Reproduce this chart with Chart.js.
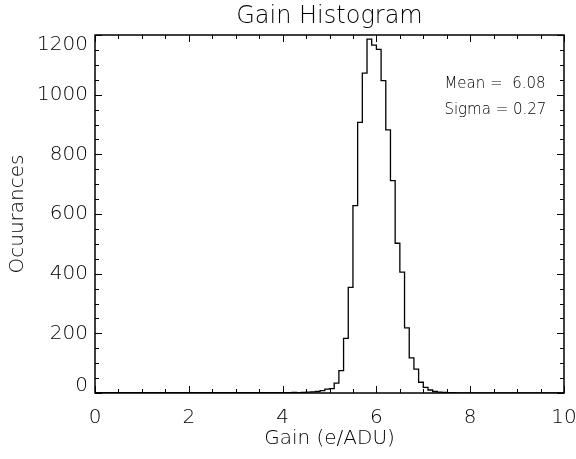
<!DOCTYPE html>
<html>
<head>
<meta charset="utf-8">
<script src="https://cdn.jsdelivr.net/npm/chart.js@4.4.0/dist/chart.umd.min.js"></script>
<style>
  html, body { margin: 0; padding: 0; background: #fff; }
  #wrap { width: 576px; height: 459px; }
</style>
</head>
<body>
<div id="wrap"><canvas id="gainChart" width="576" height="459"></canvas></div>
<script>
// Histogram bins (left edge of each 0.1 wide bin) and counts
const binStarts = [4.2, 4.3, 4.4, 4.5, 4.6, 4.7, 4.8, 4.9, 5.0, 5.1,
                   5.2, 5.3, 5.4, 5.5, 5.6, 5.7, 5.8, 5.9, 6.0, 6.1,
                   6.2, 6.3, 6.4, 6.5, 6.6, 6.7, 6.8, 6.9, 7.0, 7.1,
                   7.2, 7.3, 7.4, 7.5, 7.6, 7.7];
const counts = [1, 2, 1, 2, 3, 4, 5, 8, 13, 15,
                33, 75, 183, 354, 628, 907, 1072, 1186, 1166, 1152,
                1047, 882, 712, 502, 405, 218, 118, 80, 36, 19,
                10, 5, 3, 2, 1, 1];
const binWidth = 0.1;

// Axis ticks and labels
const xTickValues = [0, 2, 4, 6, 8, 10];
const xTickLabels = ['0', '2', '4', '6', '8', '10'];
const yTickValues = [0, 200, 400, 600, 800, 1000, 1200];
const yTickLabels = ['0', '200', '400', '600', '800', '1000', '1200'];
const xMinorStep = 0.5;
const yMinorStep = 50;

const titleText = 'Gain Histogram';
const xTitle = 'Gain (e/ADU)';
const yTitle = 'Ocuurances';
const statLines = ['Mean =  6.08', 'Sigma = 0.27'];

const FONT = '"DejaVu Sans", "Liberation Sans", sans-serif';

// Step outline points: baseline, each bin's left edge, closing edge, baseline
const lastEdge = binStarts[binStarts.length - 1] + binWidth;
const stepPoints = [{ x: 0, y: 0 }]
    .concat(binStarts.map((b, i) => ({ x: b, y: counts[i] })))
    .concat([{ x: lastEdge, y: 0 }, { x: 10, y: 0 }]);

// Frame, inward ticks and all the text, IDL style
const idlFrame = {
    id: 'idlFrame',
    afterDraw(chart) {
        const ctx = chart.ctx;
        const area = chart.chartArea;
        const xs = chart.scales.x;
        const ys = chart.scales.y;
        ctx.save();
        ctx.strokeStyle = '#000';
        ctx.lineWidth = 1.5;
        ctx.strokeRect(area.left, area.top, area.right - area.left, area.bottom - area.top);

        ctx.lineWidth = 1;
        ctx.beginPath();
        for (let v = 0; v <= 10 + 1e-9; v += xMinorStep) {
            const px = Math.round(xs.getPixelForValue(v)) + 0.5;
            const len = xTickValues.includes(Math.round(v * 10) / 10) ? 7 : 4;
            ctx.moveTo(px, area.bottom); ctx.lineTo(px, area.bottom - len);
            ctx.moveTo(px, area.top); ctx.lineTo(px, area.top + len);
        }
        for (let v = 0; v <= 1200; v += yMinorStep) {
            const py = Math.round(ys.getPixelForValue(v)) + 0.5;
            const len = yTickValues.includes(v) ? 7 : 4;
            ctx.moveTo(area.left, py); ctx.lineTo(area.left + len, py);
            ctx.moveTo(area.right, py); ctx.lineTo(area.right - len, py);
        }
        ctx.stroke();

        ctx.fillStyle = '#000';
        // tick labels
        ctx.font = '200 20px ' + FONT;
        ctx.textAlign = 'center';
        ctx.textBaseline = 'middle';
        xTickValues.forEach((v, i) => {
            ctx.fillText(xTickLabels[i], xs.getPixelForValue(v), 418);
        });
        ctx.textAlign = 'right';
        yTickValues.forEach((v, i) => {
            let py = ys.getPixelForValue(v);
            py = Math.min(Math.max(py, area.top + 10), area.bottom - 7);
            ctx.fillText(yTickLabels[i], area.left - 7, py);
        });

        // titles
        ctx.textAlign = 'center';
        ctx.font = '200 24px ' + FONT;
        ctx.fillText(titleText, (area.left + area.right) / 2, 17);
        ctx.font = '200 20px ' + FONT;
        ctx.fillText(xTitle, (area.left + area.right) / 2, 439);
        ctx.save();
        ctx.translate(18, (area.top + area.bottom) / 2);
        ctx.rotate(-Math.PI / 2);
        ctx.fillText(yTitle, 0, 0);
        ctx.restore();

        // statistics text
        ctx.textAlign = 'left';
        ctx.font = '200 15px ' + FONT;
        ctx.fillText(statLines[0], xs.getPixelForValue(7.45), 84);
        ctx.fillText(statLines[1], xs.getPixelForValue(7.45), 110);
        ctx.restore();
    }
};

new Chart(document.getElementById('gainChart').getContext('2d'), {
    type: 'line',
    data: {
        datasets: [{
            label: 'Gain',
            data: stepPoints,
            stepped: 'after',
            borderColor: '#000',
            borderWidth: 1.3,
            pointRadius: 0,
            fill: false
        }]
    },
    options: {
        responsive: false,
        animation: false,
        layout: { padding: { left: 95, right: 12, top: 35, bottom: 66 } },
        plugins: {
            legend: { display: false },
            tooltip: { enabled: false }
        },
        scales: {
            x: { type: 'linear', min: 0, max: 10, display: false },
            y: { type: 'linear', min: 0, max: 1200, display: false }
        }
    },
    plugins: [idlFrame]
});
</script>
</body>
</html>
